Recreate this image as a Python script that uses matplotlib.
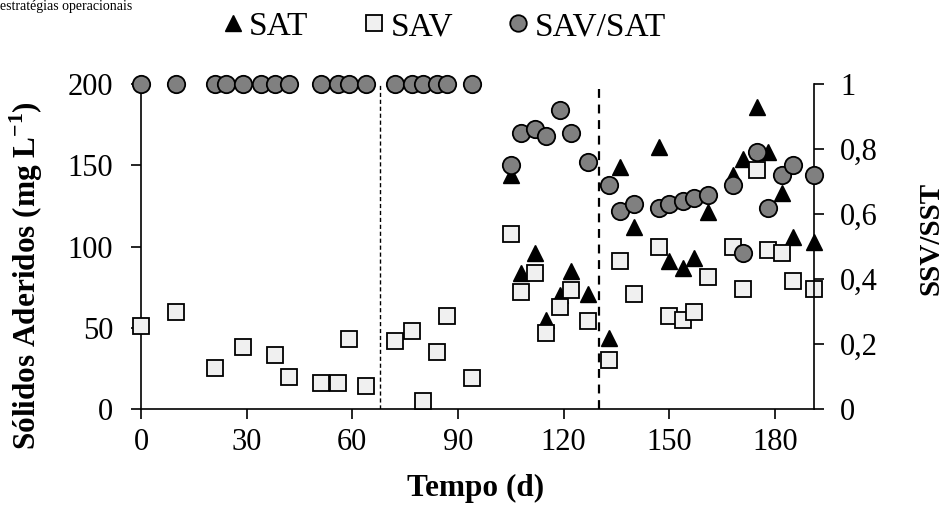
import matplotlib
matplotlib.use("Agg")
import matplotlib.pyplot as plt
from matplotlib.ticker import FuncFormatter

plt.rcParams['font.family'] = ['Liberation Serif', 'DejaVu Serif']
plt.rcParams['mathtext.fontset'] = 'custom'
plt.rcParams['mathtext.rm'] = 'Liberation Serif'
plt.rcParams['mathtext.bf'] = 'Liberation Serif:bold'

# dias de cada medida
dias_sat = [105, 108, 112, 115, 119, 122, 127, 133, 136, 140, 147, 150, 154, 157, 161,
            168, 171, 175, 178, 182, 185, 191]
sat = [144, 84, 96, 55, 70, 85, 71, 44, 149, 112, 161, 91, 87, 93, 121,
       144, 154, 186, 158, 133, 106, 103]

dias_sav = [0, 10, 21, 29, 38, 42, 51, 56, 59, 64, 72, 77, 80, 84, 87, 94,
            105, 108, 112, 115, 119, 122, 127, 133, 136, 140, 147, 150, 154, 157, 161,
            168, 171, 175, 178, 182, 185, 191]
sav = [51, 60, 25, 38, 33, 20, 16, 16, 43, 14, 42, 48, 5, 35, 57, 19,
       108, 72, 84, 47, 63, 73, 54, 30, 91, 71, 100, 57, 55, 60, 81,
       100, 74, 147, 98, 96, 79, 74]

dias_razao = [0, 10, 21, 24, 29, 34, 38, 42, 51, 56, 59, 64, 72, 77, 80, 84, 87, 94,
              105, 108, 112, 115, 119, 122, 127, 133, 136, 140, 147, 150, 154, 157, 161,
              168, 171, 175, 178, 182, 185, 191]
razao = [1, 1, 1, 1, 1, 1, 1, 1, 1, 1, 1, 1, 1, 1, 1, 1, 1, 1,
         0.75, 0.85, 0.86, 0.84, 0.92, 0.85, 0.76, 0.69, 0.61, 0.63, 0.62, 0.63, 0.64, 0.65, 0.66,
         0.69, 0.48, 0.79, 0.62, 0.72, 0.75, 0.72]

fases = [68, 130]

fig = plt.figure(figsize=(9.44, 5.15), dpi=100)
ax = fig.add_axes([0.1494, 0.2058, 0.7125, 0.6311])
ax2 = ax.twinx()

ax.plot(dias_sat, sat, linestyle='none', marker='^', markersize=12,
        markerfacecolor='black', markeredgecolor='black', clip_on=False, zorder=3, label='SAT')
ax.plot(dias_sav, sav, linestyle='none', marker='s', markersize=11.5,
        markerfacecolor='#f0f0f0', markeredgecolor='black', markeredgewidth=1.3,
        clip_on=False, zorder=4, label='SAV')
ax2.plot(dias_razao, razao, linestyle='none', marker='o', markersize=12.5,
         markerfacecolor='#808080', markeredgecolor='black', markeredgewidth=1.3,
         clip_on=False, zorder=5, label='SAV/SAT')

ax.axvline(fases[0], color='black', linestyle=(0, (3, 2)), linewidth=1.0, zorder=1)
ax.axvline(fases[1], color='black', linestyle=(0, (4, 3)), linewidth=1.6, zorder=1)

ax.set_xlim(0, 191)
ax.set_ylim(0, 200)
ax2.set_ylim(0, 1)
ax.set_xticks(range(0, 181, 30))
ax.set_yticks(range(0, 201, 50))
ax2.set_yticks([0, 0.2, 0.4, 0.6, 0.8, 1])
ax2.yaxis.set_major_formatter(FuncFormatter(lambda v, p: ('%g' % round(v, 1)).replace('.', ',')))

for a in (ax, ax2):
    a.spines['top'].set_visible(False)
    for s in a.spines.values():
        s.set_linewidth(1.2)
    a.tick_params(direction='out', length=7, width=1.2, labelsize=22)
ax2.spines['left'].set_visible(False)
ax2.spines['bottom'].set_visible(False)
ax.spines['right'].set_visible(False)
ax.tick_params(axis='y', pad=13)
ax.tick_params(axis='x', pad=7)
ax2.tick_params(axis='y', pad=12)

ax.set_xlabel('Tempo (d)', fontsize=22.5, fontweight='bold')
ax.xaxis.set_label_coords(0.497, -0.2)
ax.set_ylabel(r'Sólidos Aderidos (mg L$^{\mathbf{-1}}$)', fontsize=22.5, fontweight='bold')
ax.yaxis.set_label_coords(-0.143, 0.41)
ax2.set_ylabel('SSV/SST', fontsize=21, fontweight='bold')
ax2.yaxis.set_label_coords(1.155, 0.526)

h1, l1 = ax.get_legend_handles_labels()
h2, l2 = ax2.get_legend_handles_labels()
fig.legend(h1 + h2, l1 + l2, loc='center', bbox_to_anchor=(0.467, 0.948), ncol=3,
           frameon=False, fontsize=24, handletextpad=0.0, columnspacing=1.45,
           handlelength=1.0, markerscale=0.95)

fig.text(0.0, 1.0, 'estratégias operacionais', fontsize=10, va='top', ha='left')

fig.savefig('out.png', dpi=100)
